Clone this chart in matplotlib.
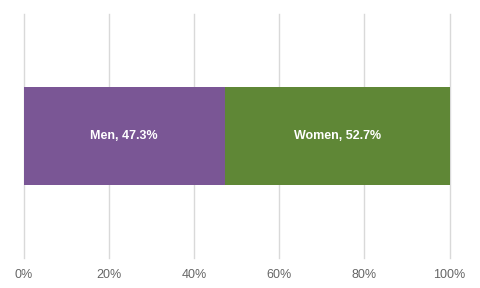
import matplotlib
matplotlib.use("Agg")
import matplotlib.pyplot as plt

categories = ["Men", "Women"]
values = [47.3, 52.7]
colors = ["#7a5695", "#5f8736"]
ticks = [0, 20, 40, 60, 80, 100]
tick_labels = ["0%", "20%", "40%", "60%", "80%", "100%"]

plt.rcParams['font.family'] = ['Liberation Sans', 'DejaVu Sans']
fig = plt.figure(figsize=(4.8, 2.88), dpi=100)
ax = fig.add_axes([23.5/480, 1-258/288, 426/480, 244/288])

left = 0
for cat, v, c in zip(categories, values, colors):
    ax.barh(0, v, left=left, height=0.4, color=c, zorder=2)
    ax.text(left + v/2, 0, f"{cat}, {v}%", ha="center", va="center",
            color="white", fontsize=9, fontweight="bold", zorder=3)
    left += v

ax.set_xlim(0, 100)
ax.set_ylim(-0.5, 0.5)
ax.set_xticks(ticks)
ax.set_xticklabels(tick_labels, color="#666666", fontsize=9)
ax.set_yticks([])
ax.tick_params(axis="x", length=0, pad=8)
ax.grid(axis="x", color="#d9d9d9", linewidth=1, zorder=0)
for gl in ax.get_xgridlines():
    gl.set_clip_on(False)
for s in ax.spines.values():
    s.set_visible(False)

fig.savefig("out.png", dpi=100)
